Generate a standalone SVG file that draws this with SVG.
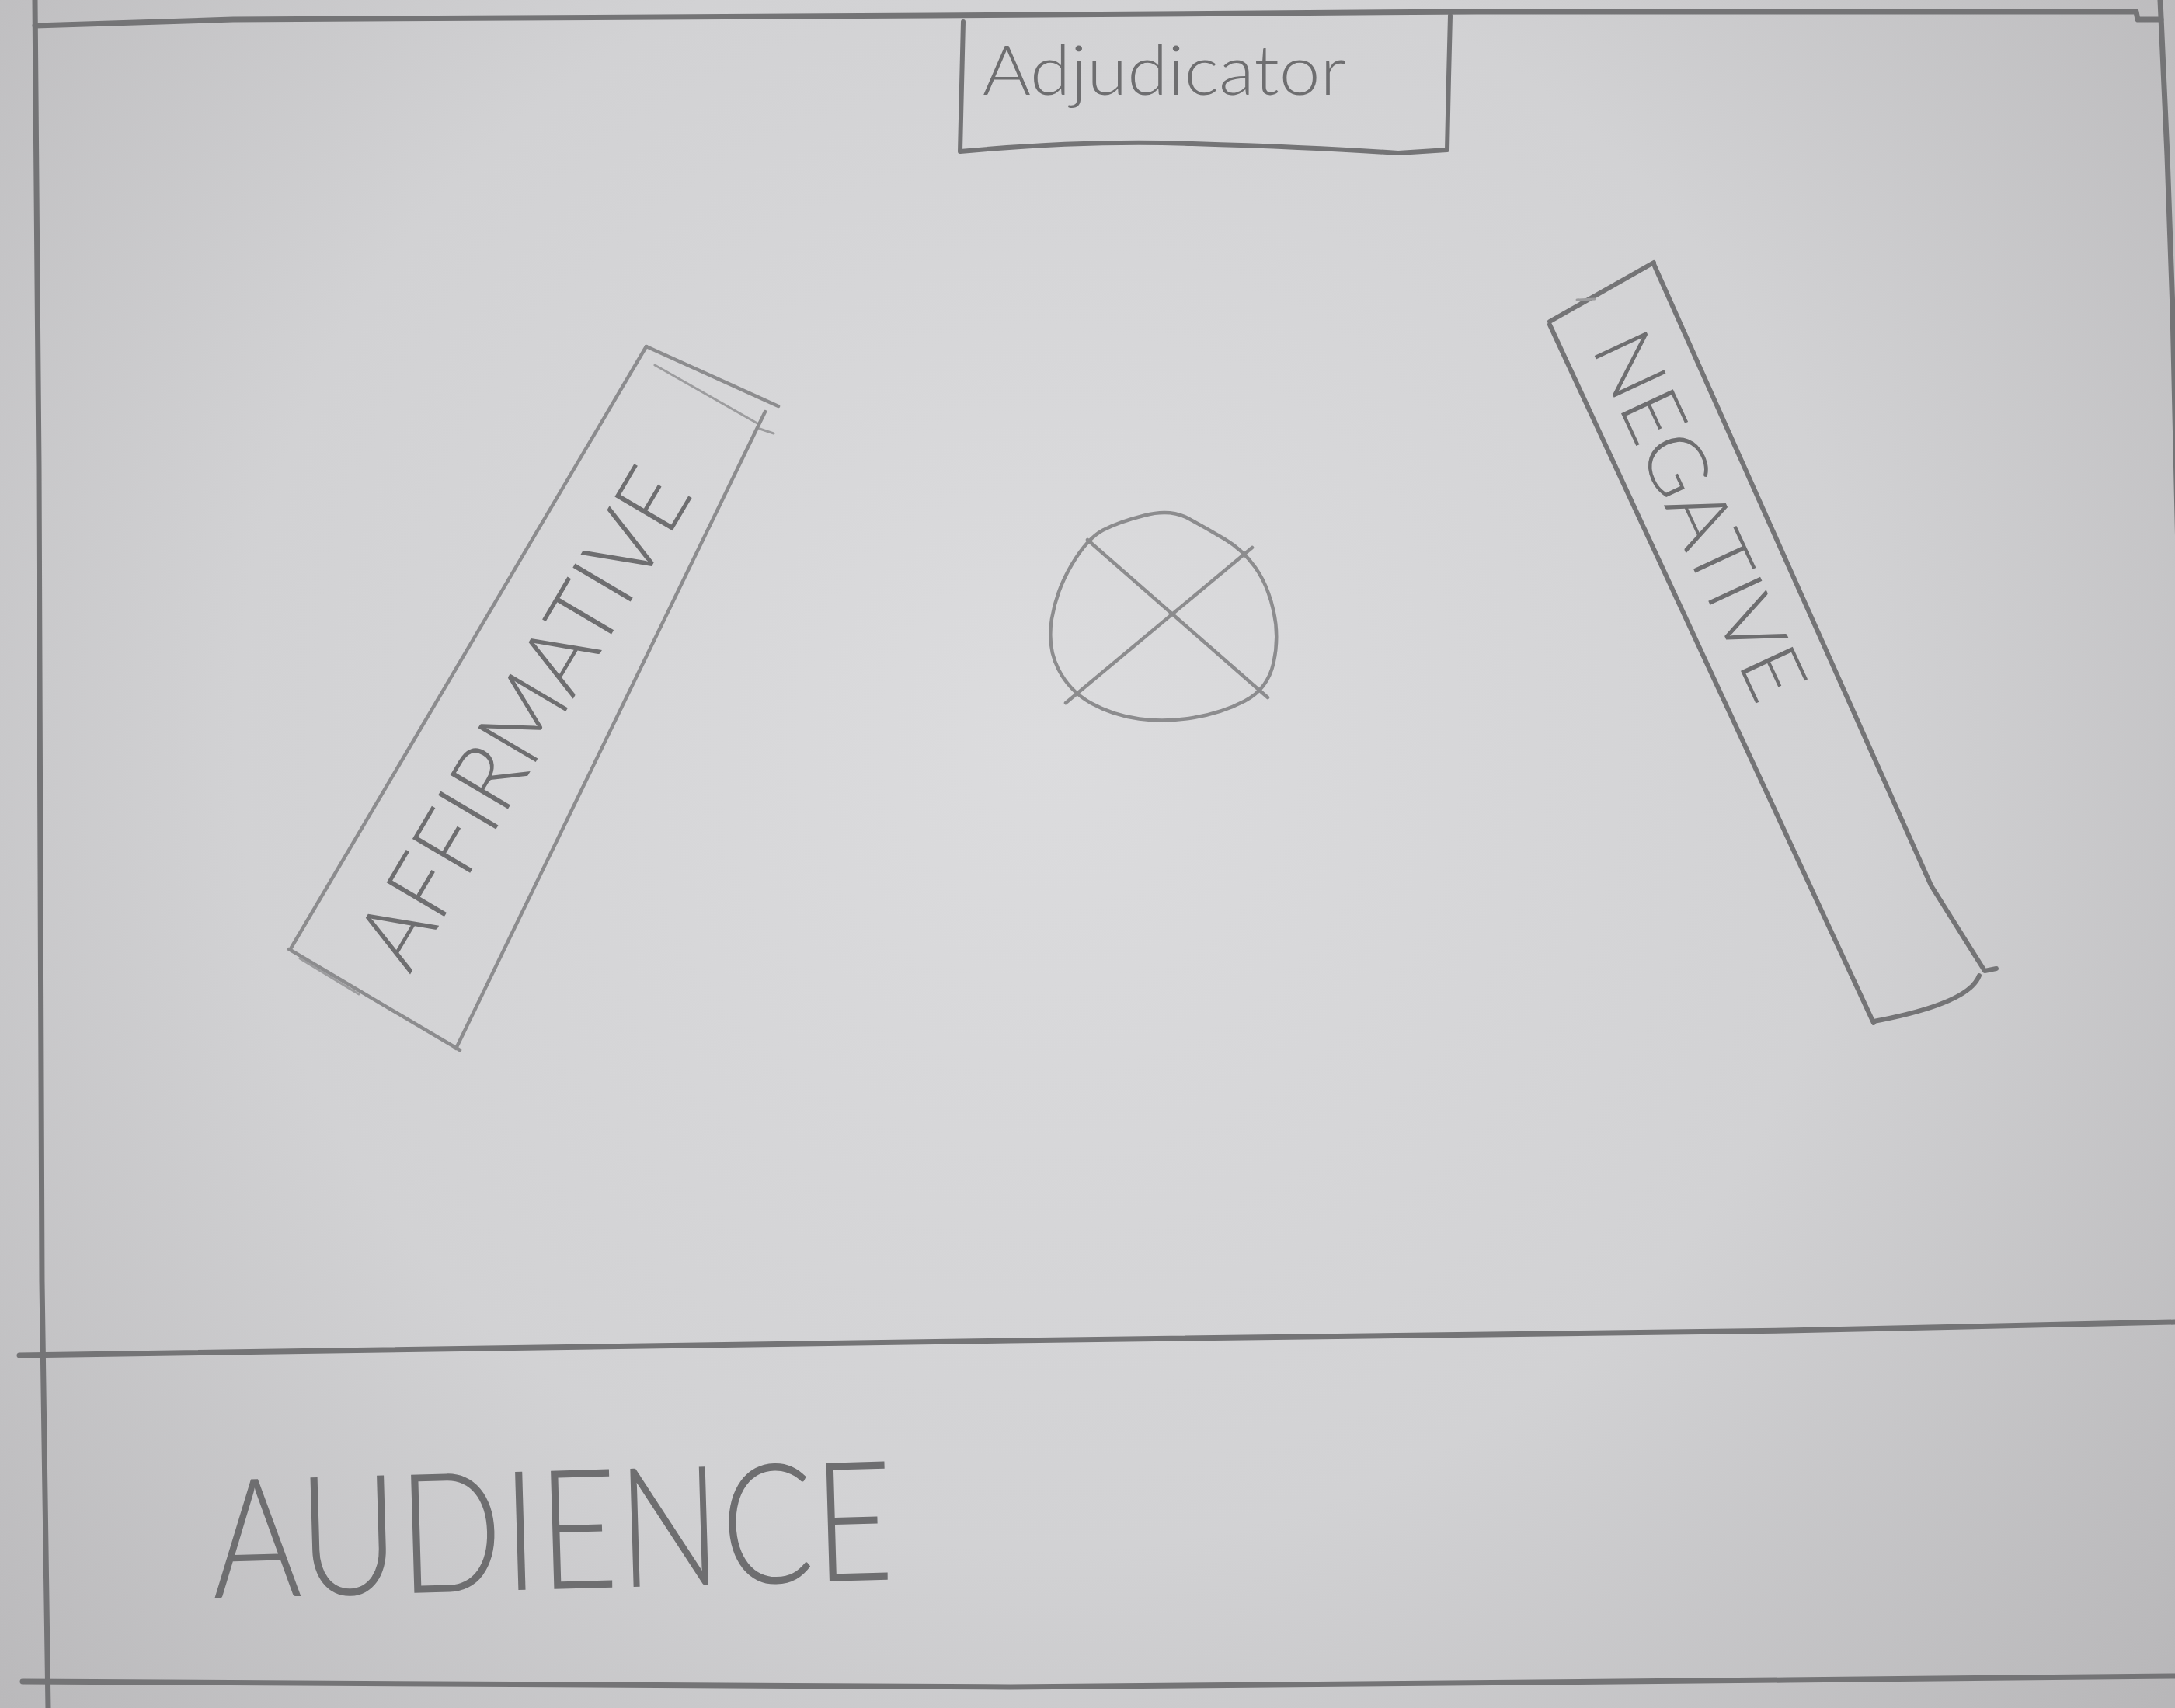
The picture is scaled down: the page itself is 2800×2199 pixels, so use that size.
<svg xmlns="http://www.w3.org/2000/svg" width="2800" height="2199" viewBox="0 0 2800 2199">
  <defs>
    <radialGradient id="paper" cx="1350" cy="950" r="1900" gradientUnits="userSpaceOnUse">
      <stop offset="0" stop-color="#dcdcde"/>
      <stop offset="0.55" stop-color="#d2d2d4"/>
      <stop offset="1" stop-color="#b8b7b9"/>
    </radialGradient>
    <style>
      .pencil { fill: none; stroke: #747476; stroke-linecap: round; stroke-linejoin: round; }
      .frame { stroke-width: 7; }
      .box { stroke-width: 6; }
      .light { stroke: #8c8c8e; stroke-width: 4.5; }
      .faint { stroke: #9c9c9e; stroke-width: 3; }
      .label { font-family: "Lato", "Open Sans", "Liberation Sans", sans-serif; font-weight: 300; fill: #6e6e70; }
    </style>
  </defs>

  <!-- paper -->
  <rect width="2800" height="2199" fill="url(#paper)"/>

  <!-- room outline, stage divider and audience strip -->
  <g id="frame" class="pencil frame">
    <path d="M45,33 L300,25 L1200,20 L1900,15 L2750,15 L2752,25 L2782,25"/>
    <path d="M2781,0 L2790,200 L2797,400 L2806,800"/>
    <path d="M45,0 L50,600 L54,1650 L62,2199"/>
    <path d="M25,1745 L1300,1726 L2300,1713 L2800,1702"/>
    <path d="M29,2165 L1300,2172 L2300,2163 L2800,2158"/>
  </g>

  <!-- adjudicator's table -->
  <g id="adjudicator">
    <path class="pencil box" d="M1240,28 L1238,110 L1236,195 Q1400,180 1535,185 Q1700,190 1800,197 L1863,193 L1865,100 L1867,20"/>
    <text class="label" x="1265" y="122" font-size="88" textLength="468" lengthAdjust="spacingAndGlyphs">Adjudicator</text>
  </g>

  <!-- affirmative bench -->
  <g id="affirmative">
    <path class="pencil light" d="M832,446 L1002,523"/>
    <path class="pencil faint" d="M843,470 L975,545 M978,552 L996,558"/>
    <path class="pencil light" d="M985,530 L587,1350"/>
    <path class="pencil light" d="M372,1222 L592,1352"/>
    <path class="pencil faint" d="M386,1234 L462,1280"/>
    <path class="pencil light" d="M832,446 L375,1220"/>
    <text class="label" transform="translate(670,922) rotate(-59.4)" x="0" y="0" font-size="122" text-anchor="middle" dominant-baseline="central" textLength="720" lengthAdjust="spacingAndGlyphs">AFFIRMATIVE</text>
  </g>

  <!-- negative bench -->
  <g id="negative">
    <path class="pencil box" d="M1995,414 L2129,338"/>
    <path class="pencil faint" d="M2030,386 L2053,385"/>
    <path class="pencil box" d="M2129,340 L2486,1140 L2555,1250 L2570,1247"/>
    <path class="pencil box" d="M2548,1256 Q2535,1292 2412,1315"/>
    <path class="pencil box" d="M1995,418 L2412,1317"/>
    <text class="label" transform="translate(2192,662) rotate(65.1)" x="0" y="0" font-size="104" text-anchor="middle" dominant-baseline="central" textLength="510" lengthAdjust="spacingAndGlyphs">NEGATIVE</text>
  </g>

  <!-- centre speaking position -->
  <g id="centre-mark" class="pencil light">
    <path d="M1380,726.5 Q1400,693 1420,682.5 Q1440,672 1473.5,663.5 Q1507,655 1530,667.5 Q1553,680 1576.5,694 Q1600,708 1616,730.5 Q1632,753 1639.5,786.5 Q1647,820 1639.5,853.5 Q1632,887 1602.5,902.5 Q1573,918 1536.5,924 Q1500,930 1466.5,925.5 Q1433,921 1405,905.5 Q1377,890 1362.5,861.5 Q1348,833 1354,796.5 Q1360,760 1380,726.5 Z"/>
    <path d="M1400,695 L1632,898"/>
    <path d="M1612,705 L1372,905"/>
  </g>

  <!-- audience area -->
  <g id="audience">
    <text class="label" transform="rotate(-1.6 274 2058)" x="274" y="2058" font-size="215" textLength="878" lengthAdjust="spacingAndGlyphs">AUDIENCE</text>
  </g>

  <!-- no connectors in this layout -->
  <g id="connectors"/>
</svg>
